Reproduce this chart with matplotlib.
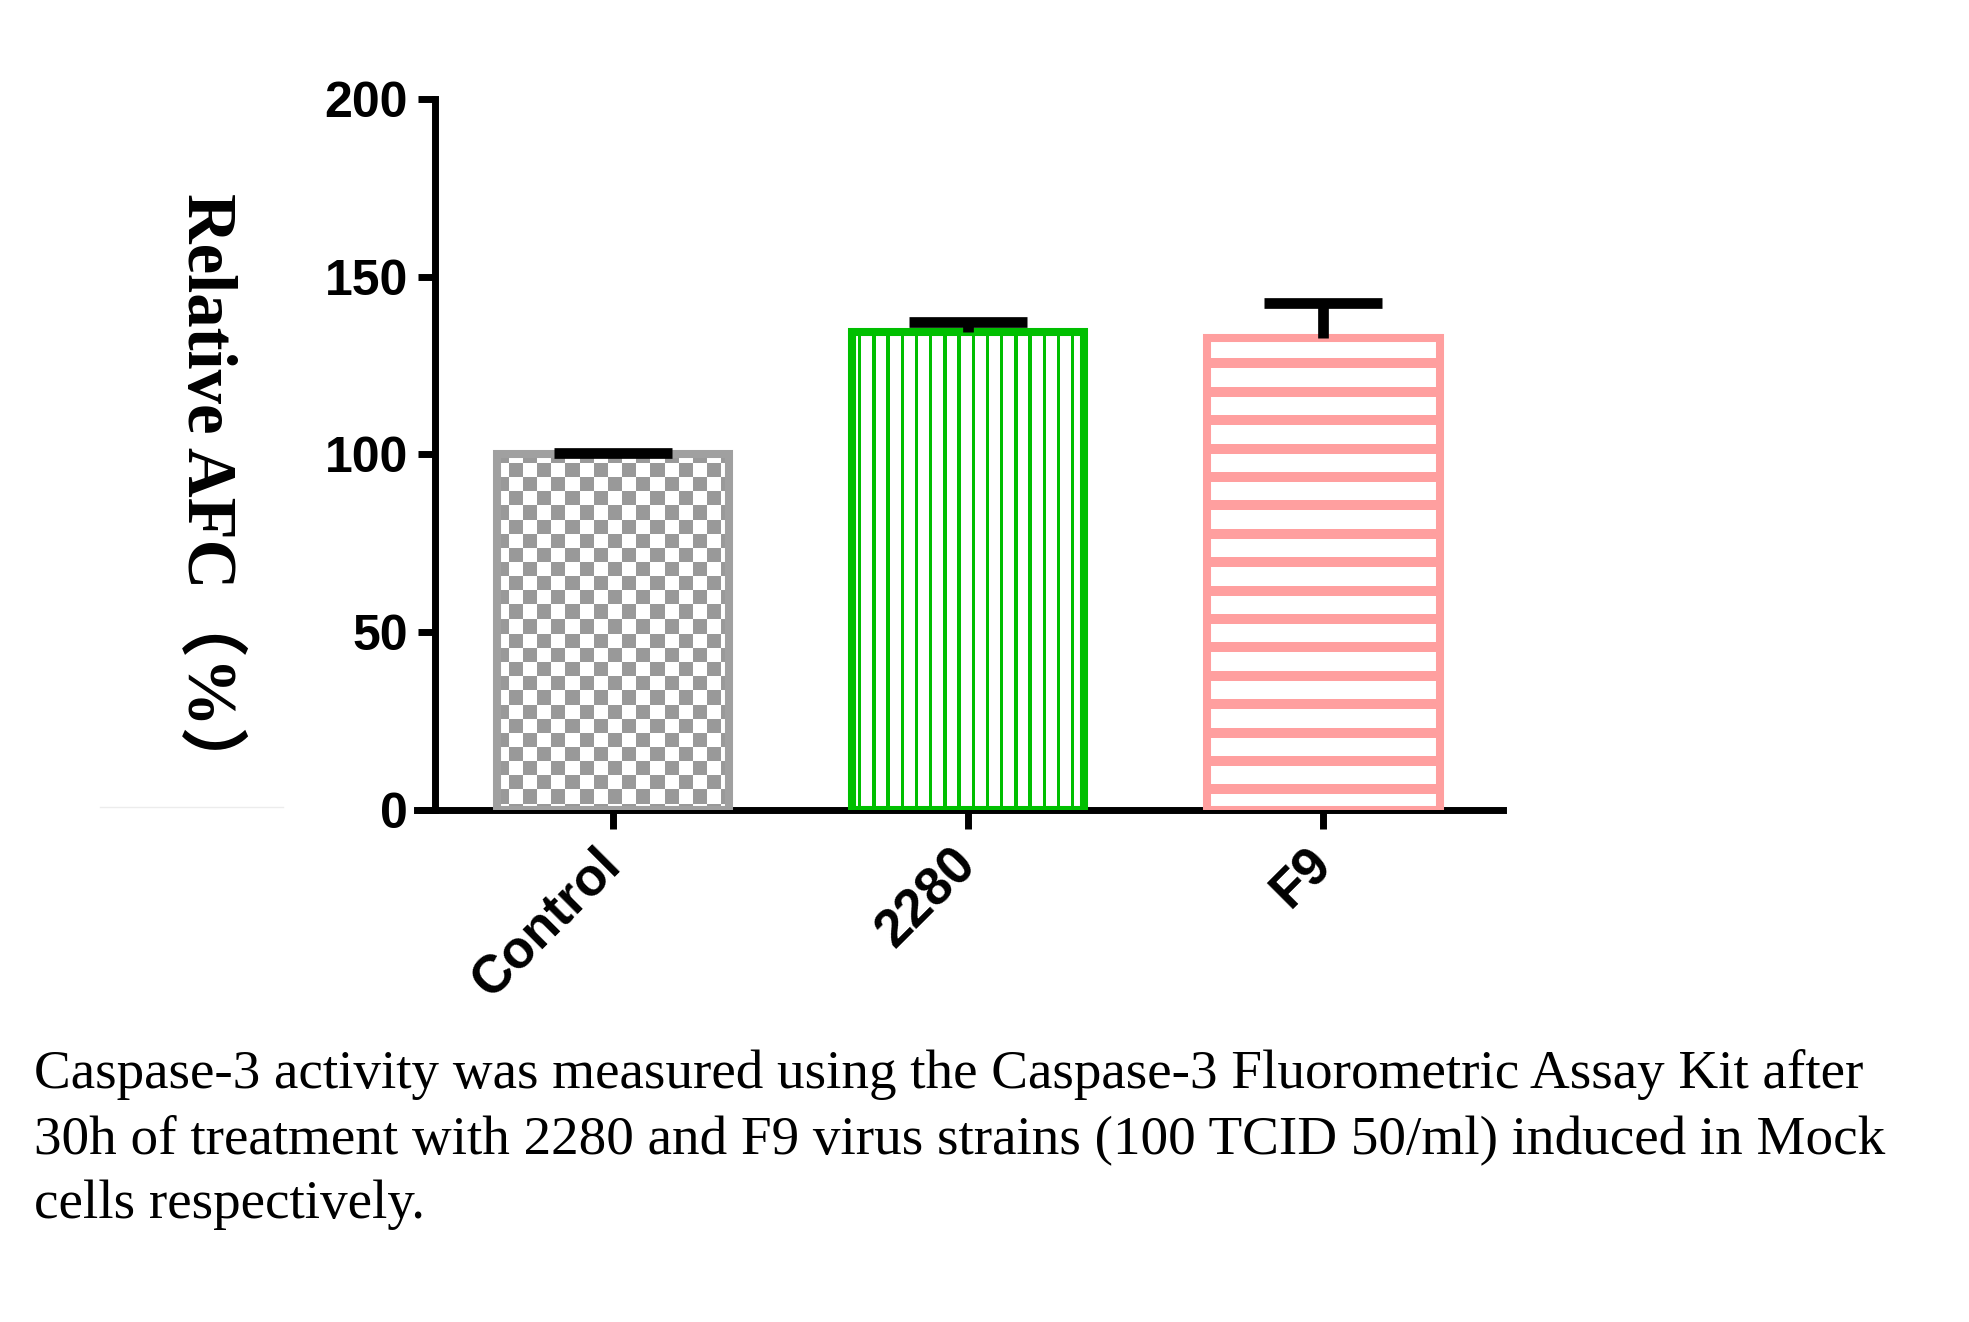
import numpy as np
import matplotlib
matplotlib.use('Agg')
import matplotlib.pyplot as plt
from matplotlib.colors import to_rgb
from matplotlib.lines import Line2D

# ---------------- data ----------------
categories = ['Control', '2280', 'F9']
values = [100.0, 134.6, 132.8]
err_upper = [0.4, 2.6, 9.9]
yticks = [0, 50, 100, 150, 200]
ylabel = 'Relative AFC（%）'
caption_lines = [
    'Caspase-3 activity was measured using the Caspase-3 Fluorometric Assay Kit after',
    '30h of treatment with 2280 and F9 virus strains (100 TCID 50/ml) induced in Mock',
    'cells respectively.',
]

edge_colors = ['#a0a0a0', '#00bf00', '#ff9f9f']
pattern_colors = ['#999999', '#00bf00', '#ff9f9f']
patterns = ['checker', 'vstripe', 'hstripe']

# ---------------- figure ----------------
W, H, DPI = 1969, 1322, 100
fig = plt.figure(figsize=(W / DPI, H / DPI), dpi=DPI)
fig.patch.set_facecolor('white')
ax = fig.add_axes([417 / W, 1 - 809.7 / H, 1086 / W, 710.4 / H])
XLIM = (-0.552, 2.506)
YLIM = (0, 200)
ax.set_xlim(*XLIM)
ax.set_ylim(*YLIM)

x = np.arange(len(categories))
bars = ax.bar(x, values, width=0.655, facecolor='none', edgecolor=edge_colors,
              linewidth=5.8, zorder=3)

# pattern fills (pixel-accurate) inside each bar
for bar, pat, col in zip(bars, patterns, pattern_colors):
    x0, y0 = bar.get_x(), bar.get_y()
    x1, y1 = x0 + bar.get_width(), y0 + bar.get_height()
    (px0, py0), (px1, py1) = ax.transData.transform([(x0, y0), (x1, y1)])
    w = int(round(px1 - px0))
    h = int(round(py1 - py0))
    jj, ii = np.meshgrid(np.arange(w), np.arange(h))
    if pat == 'checker':
        s = 14.15
        mask = (np.floor((jj - 11.4) / s) + np.floor((ii - 8.5) / s)) % 2 == 0
    elif pat == 'vstripe':
        p = 14.2
        mask = np.abs(((jj - 7.2 + p / 2) % p) - p / 2) < 1.75
    else:
        p = 28.4
        mask = ((ii - 20) % p) < 10
    img = np.ones((h, w, 3))
    img[mask] = to_rgb(col)
    ax.imshow(img, extent=(x0, x1, y0, y1), origin='upper',
              interpolation='nearest', aspect='auto', zorder=2)

ax.set_xlim(*XLIM)
ax.set_ylim(*YLIM)

# upper-only error bars (stem + top cap)
vals = np.array(values)
tops = vals + np.array(err_upper)
cap_w = 0.333
ax.vlines(x, vals, tops, colors='black', linewidth=7.7, zorder=4)
ax.hlines(tops, x - cap_w / 2, x + cap_w / 2, colors='black', linewidth=7.7,
          zorder=4)

# ---------------- axes styling ----------------
for s in ['top', 'right']:
    ax.spines[s].set_visible(False)
ax.spines['left'].set_position(('axes', 18 / 1086))
ax.spines['left'].set_linewidth(5)
ax.spines['bottom'].set_linewidth(5)

ax.set_yticks(yticks)
ax.set_yticklabels([str(v) for v in yticks], fontsize=36, fontweight='bold',
                   family='Liberation Sans')
ax.set_xticks(x)
ax.set_xticklabels(categories, rotation=45, ha='right', va='center',
                   rotation_mode='anchor', fontsize=38, fontweight='bold',
                   family='Liberation Sans')
ax.tick_params(axis='y', width=5, length=12.5, pad=7)
ax.tick_params(axis='x', width=5, length=13.5, pad=20)

fig.text(206 / W, 1 - 494 / H, ylabel, rotation=270, ha='center', va='center',
         fontsize=49.5, fontweight='bold',
         family=['Liberation Serif', 'Noto Sans CJK SC'])

# faint line artifact at bottom-left
fig.add_artist(Line2D([100 / W, 283 / W], [1 - 807 / H, 1 - 807 / H],
                      color='#ececec', lw=1))

baselines = [1088, 1153, 1218]
for line, b in zip(caption_lines, baselines):
    fig.text(34 / W, 1 - b / H, line, fontsize=39.7, family='Liberation Serif',
             va='baseline', ha='left', color='black')

fig.savefig('out.png', dpi=DPI, facecolor='white')
